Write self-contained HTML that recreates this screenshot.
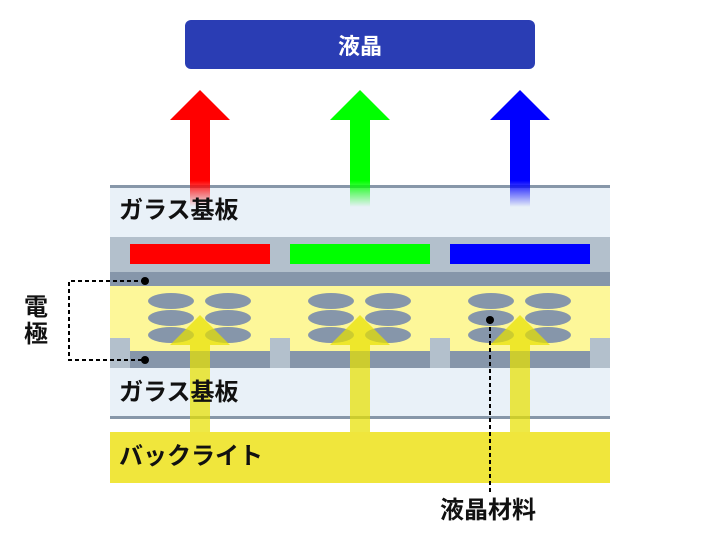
<!DOCTYPE html>
<html><head><meta charset="utf-8"><style>
body{margin:0;width:720px;height:540px;background:#fff;overflow:hidden;position:relative;font-family:"Liberation Sans","Noto Sans CJK JP",sans-serif}
.t{position:absolute;font-weight:bold;color:#111;font-size:24px;white-space:nowrap;line-height:28px}
</style></head><body>
<svg width="720" height="540" style="position:absolute;left:0;top:0">
<defs>
<linearGradient id="gr" x1="0" y1="0" x2="0" y2="1"><stop offset="0.7" stop-color="#ff0000"/><stop offset="1" stop-color="#ff0000" stop-opacity="0"/></linearGradient>
<linearGradient id="gg" x1="0" y1="0" x2="0" y2="1"><stop offset="0.7" stop-color="#00ff00"/><stop offset="1" stop-color="#00ff00" stop-opacity="0"/></linearGradient>
<linearGradient id="gb" x1="0" y1="0" x2="0" y2="1"><stop offset="0.7" stop-color="#0000ff"/><stop offset="1" stop-color="#0000ff" stop-opacity="0"/></linearGradient>
</defs>
<rect x="185" y="20" width="350" height="49" rx="6" fill="#2a3db4"/>
<text x="360" y="54" text-anchor="middle" font-size="22" font-weight="bold" fill="#fff" font-family="Liberation Sans,Noto Sans CJK JP,sans-serif">液晶</text>
<rect x="110" y="185" width="500" height="52" fill="#e9f1f8"/>
<rect x="110" y="185" width="500" height="3" fill="#8797a9"/>
<g><polygon points="200,90 230,120 170,120" fill="#ff0000"/><rect x="190" y="119" width="20" height="88" fill="url(#gr)"/></g>
<g><polygon points="360,90 390,120 330,120" fill="#00ff00"/><rect x="350" y="119" width="20" height="88" fill="url(#gg)"/></g>
<g><polygon points="520,90 550,120 490,120" fill="#0000ff"/><rect x="510" y="119" width="20" height="88" fill="url(#gb)"/></g>
<rect x="110" y="237" width="500" height="35" fill="#b3c0cc"/>
<rect x="130" y="244" width="140" height="20" fill="#ff0000"/>
<rect x="290" y="244" width="140" height="20" fill="#00ff00"/>
<rect x="450" y="244" width="140" height="20" fill="#0000ff"/>
<rect x="110" y="272" width="500" height="14" fill="#8696aa"/>
<rect x="110" y="286" width="500" height="65" fill="#fdf799"/>
<rect x="110" y="351" width="500" height="17" fill="#8696aa"/>
<g fill="#b3c0cc">
<rect x="110" y="338" width="20" height="30"/><rect x="270" y="338" width="20" height="30"/><rect x="430" y="338" width="20" height="30"/><rect x="590" y="338" width="20" height="30"/>
</g>
<g fill="#8696aa">
<ellipse cx="171" cy="301" rx="23" ry="8"/><ellipse cx="228" cy="301" rx="23" ry="8"/>
<ellipse cx="171" cy="318" rx="23" ry="8"/><ellipse cx="228" cy="318" rx="23" ry="8"/>
<ellipse cx="171" cy="335" rx="23" ry="8"/><ellipse cx="228" cy="335" rx="23" ry="8"/>
<ellipse cx="331" cy="301" rx="23" ry="8"/><ellipse cx="388" cy="301" rx="23" ry="8"/>
<ellipse cx="331" cy="318" rx="23" ry="8"/><ellipse cx="388" cy="318" rx="23" ry="8"/>
<ellipse cx="331" cy="335" rx="23" ry="8"/><ellipse cx="388" cy="335" rx="23" ry="8"/>
<ellipse cx="491" cy="301" rx="23" ry="8"/><ellipse cx="548" cy="301" rx="23" ry="8"/>
<ellipse cx="491" cy="318" rx="23" ry="8"/><ellipse cx="548" cy="318" rx="23" ry="8"/>
<ellipse cx="491" cy="335" rx="23" ry="8"/><ellipse cx="548" cy="335" rx="23" ry="8"/>
</g>
<rect x="110" y="368" width="500" height="49" fill="#e9f1f8"/>
<rect x="110" y="416" width="500" height="3" fill="#8797a9"/>
<rect x="110" y="432" width="500" height="51" fill="#f0e63c"/>
<g fill="#e8e000" fill-opacity="0.72">
<polygon points="200,315 230,345 170,345"/><rect x="190" y="345" width="20" height="87"/>
<polygon points="360,315 390,345 330,345"/><rect x="350" y="345" width="20" height="87"/>
<polygon points="520,315 550,345 490,345"/><rect x="510" y="345" width="20" height="87"/>
</g>
<g stroke="#000" stroke-width="2" stroke-dasharray="4,3" fill="none">
<polyline points="145,281 69,281 69,360 145,360"/>
<line x1="490" y1="320" x2="490" y2="495"/>
</g>
<circle cx="145" cy="281" r="4"/><circle cx="145" cy="360" r="4"/><circle cx="490" cy="320" r="4"/>
</svg>
<div class="t" style="left:119px;top:197px">ガラス基板</div>
<div class="t" style="left:119px;top:379px">ガラス基板</div>
<div class="t" style="left:119px;top:443px">バックライト</div>
<div class="t" style="left:24px;top:294px;line-height:27px;width:26px">電<br>極</div>
<div class="t" style="left:440px;top:497px">液晶材料</div>
</body></html>
